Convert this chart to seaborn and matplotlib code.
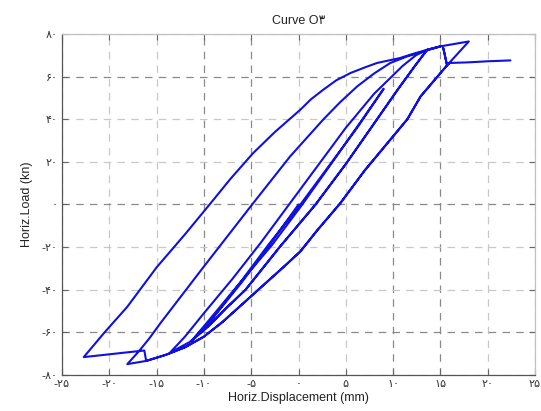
import matplotlib
matplotlib.use("Agg")
import matplotlib.pyplot as plt
import numpy as np
import pandas as pd
import seaborn as sns

# ---- data (displacement mm, load kN) ----
c1_x = [0.0, -3.0, -6.0, -9.0, -11.3]
c1_y = [0.0, -18.5, -36.5, -53.0, -64.0]
c2_x = [-9.2, -6.4, -3.2, 0.2, 3.2, 6.2, 9.0]
c2_y = [-54.0, -38.0, -19.0, 0.0, 18.0, 36.0, 54.3]
c3_x = [6.6, 3.6, 0.4, -2.8, -6.8, -9.6, -11.3]
c3_y = [39.0, 20.0, 0.0, -19.0, -40.0, -55.0, -64.0]
d_x = [-9.5, -7.5, -5.6, -2.0, 1.8, 5.0, 8.3, 10.5, 12.3, 13.6]
d_y = [-57.0, -48.0, -40.0, -20.0, 0.0, 19.0, 40.0, 54.0, 65.0, 72.6]
b_x = [12.4, 11.0, 8.0, 5.0, 2.0, -1.0, -4.0, -7.0, -10.0, -12.0, -13.6]
b_y = [70.0, 65.0, 52.0, 36.0, 18.0, 0.0, -18.0, -35.0, -51.0, -62.0, -69.6]
d2_x = [-11.5] + d_x + [15.0]
d2_y = [-64.5] + d_y + [74.2]
s_x = [13.2, 11.5, 9.7, 8.0, 6.2, 4.4, 2.6, -0.9, -4.9, -10.0, -14.6, -15.8, -16.9, -18.1]
s_y = [71.8, 69.5, 66.4, 61.5, 55.4, 48.0, 39.8, 22.5, 0.0, -29.1, -55.7, -63.0, -69.0, -74.9]
e_x = [-16.1, -14.0, -12.0, -10.0, -8.0, -6.0, -3.5, -1.5, 0.2, 2.0, 4.4, 7.0, 9.7, 11.5, 12.9, 14.5, 15.7]
e_y = [-73.4, -70.5, -67.0, -62.0, -55.0, -47.0, -37.0, -29.0, -22.0, -12.0, 0.5, 16.0, 30.4, 40.0, 50.7, 59.0, 65.3]
peak_x = [18.0]
peak_y = [76.5]
o_x = [15.0, 13.6, 12.2, 10.7, 8.3, 7.0, 5.5, 4.0, 2.6, 1.3, 0.2, -2.5, -4.8, -7.2, -9.4, -12.0, -15.0, -18.1, -20.5, -22.7]
o_y = [74.2, 72.6, 70.8, 68.7, 66.4, 64.3, 61.7, 58.3, 53.8, 49.3, 44.5, 34.0, 24.1, 12.0, 0.0, -14.0, -29.5, -48.0, -60.0, -71.6]
notch_x = [-16.3]
notch_y = [-68.5]
top_x = [15.3, 15.7]
top_y = [73.4, 65.3]
tail_x = [16.0, 18.0, 20.0, 22.4]
tail_y = [66.4, 66.7, 67.2, 67.6]

x_ticks = [-25, -20, -15, -10, -5, 0, 5, 10, 15, 20, 25]
x_tick_labels = ["-۲۵", "-۲۰", "-۱۵", "-۱۰", "-۵", "۰", "۵", "۱۰", "۱۵", "۲۰", "۲۵"]
y_ticks = [-80, -60, -40, -20, 0, 20, 40, 60, 80]
y_tick_labels = ["-۸۰", "-۶۰", "-۴۰", "-۲۰", "۰", "۲۰", "۴۰", "۶۰", "۸۰"]

path_x = (c1_x + c2_x + c3_x + d_x + b_x + d2_x + s_x + e_x + peak_x + o_x
          + notch_x + e_x + top_x + tail_x)
path_y = (c1_y + c2_y + c3_y + d_y + b_y + d2_y + s_y + e_y + peak_y + o_y
          + notch_y + e_y + top_y + tail_y)
df = pd.DataFrame({"disp": path_x, "load": path_y})

sns.set_theme(style="white")
plt.rcParams["font.family"] = ["Liberation Sans", "DejaVu Sans"]

fig = plt.figure(figsize=(5.41, 4.11), dpi=100)
ax = fig.add_axes([0.1146, 0.0876, 0.8744, 0.8297])

sns.lineplot(data=df, x="disp", y="load", sort=False, estimator=None,
             color="#1010e0", linewidth=1.5, ax=ax)

ax.set_xlim(-25, 25)
ax.set_ylim(-80, 80)
ax.set_xticks(x_ticks)
ax.set_xticklabels(x_tick_labels, family=["DejaVu Sans"], fontsize=8, color="#333333")
ax.set_yticks(y_ticks)
ax.set_yticklabels(y_tick_labels, family=["DejaVu Sans"], fontsize=8, color="#333333")
ax.tick_params(direction="in", length=4, width=0.8, color="#666666", pad=3,
               bottom=True, left=True, top=True, right=True,
               labeltop=False, labelright=False)

ax.grid(True, linestyle=(0, (6, 5)), linewidth=0.9, color="#c8c8c8")
dark_x = {-10, -5, 10, 15}
dark_y = {60, 0, -60}
for t, gl in zip(x_ticks, ax.get_xgridlines()):
    if t in dark_x:
        gl.set_color("#8a8a8a")
for t, gl in zip(y_ticks, ax.get_ygridlines()):
    if t in dark_y:
        gl.set_color("#8a8a8a")

for side in ["top", "right"]:
    ax.spines[side].set_color("#c0c0c0")
    ax.spines[side].set_linewidth(0.9)
for side in ["left", "bottom"]:
    ax.spines[side].set_color("#555555")
    ax.spines[side].set_linewidth(0.9)

ax.set_xlabel("Horiz.Displacement (mm)", fontsize=9, color="#222222", labelpad=2)
ax.set_ylabel("Horiz.Load (kn)", fontsize=9, color="#222222", labelpad=6)
ax.set_title("Curve O۳", fontsize=9, color="#222222", pad=7)

fig.savefig("out.png", dpi=100)
